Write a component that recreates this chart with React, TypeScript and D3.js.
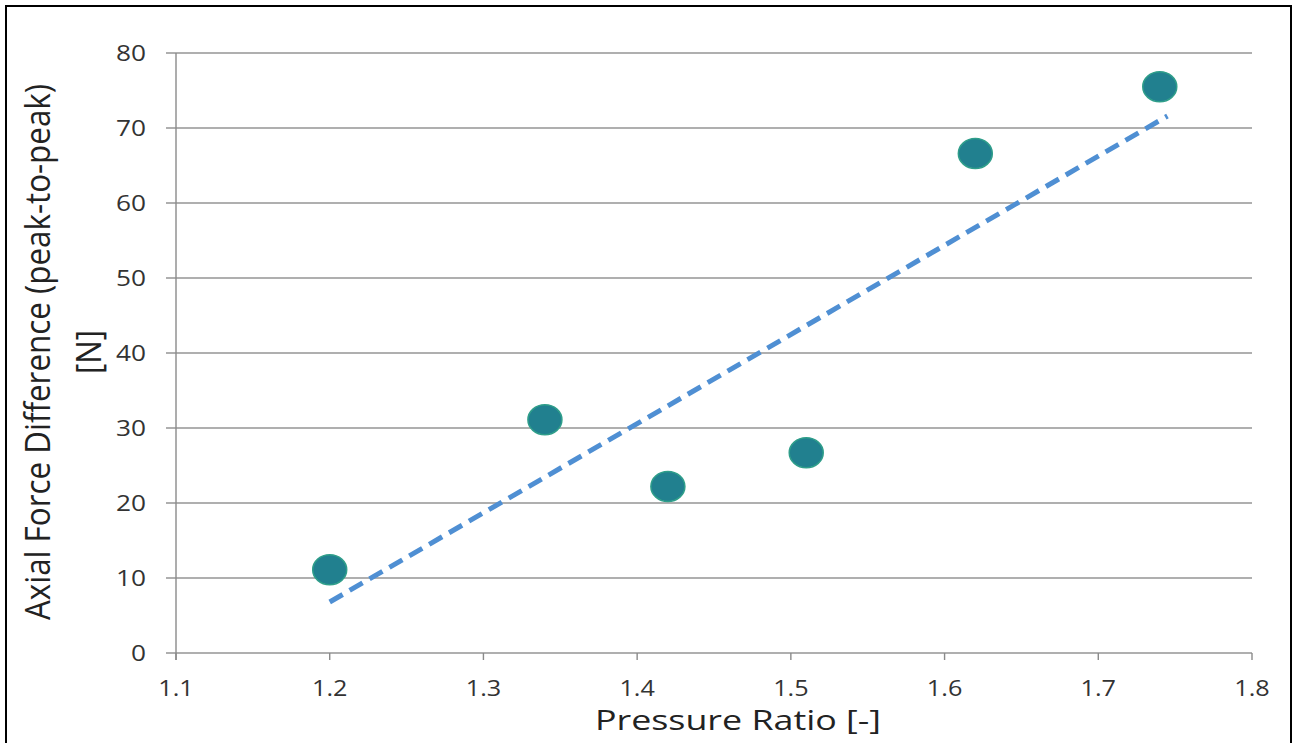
import React, { useEffect, useRef } from "react";
import * as d3 from "d3";

// data
const pressureRatio = [1.2, 1.34, 1.42, 1.51, 1.62, 1.74];
const axialForce = [11.1, 31.1, 22.2, 26.7, 66.6, 75.5];
const trendX = [1.2, 1.745];
const trendY = [6.8, 71.6];
const xTicks = [1.1, 1.2, 1.3, 1.4, 1.5, 1.6, 1.7, 1.8];
const yTicks = [0, 10, 20, 30, 40, 50, 60, 70, 80];

const width = 1296;
const height = 743;
const font = "'Open Sans', 'Noto Sans', sans-serif";

export default function App() {
  const ref = useRef<SVGSVGElement>(null);

  useEffect(() => {
    const svg = d3.select(ref.current);
    svg.selectAll("*").remove();

    const x = d3.scaleLinear().domain([1.1, 1.8]).range([176, 1252]);
    const y = d3.scaleLinear().domain([0, 80]).range([653, 53]);

    svg.append("rect").attr("width", width).attr("height", height).attr("fill", "#fff");
    // outer frame
    svg.append("rect")
      .attr("x", 6).attr("y", 6)
      .attr("width", 1285).attr("height", 760)
      .attr("fill", "none").attr("stroke", "#000").attr("stroke-width", 2);

    // horizontal gridlines (extend left of the axis like tick marks)
    svg.append("g").selectAll("line").data(yTicks).join("line")
      .attr("x1", x(1.1) - 10).attr("x2", x(1.8))
      .attr("y1", d => y(d)).attr("y2", d => y(d))
      .attr("stroke", "#959595").attr("stroke-width", 1.4);

    // y axis line
    svg.append("line")
      .attr("x1", x(1.1)).attr("x2", x(1.1))
      .attr("y1", y(80)).attr("y2", y(0) + 7)
      .attr("stroke", "#8a8a8a").attr("stroke-width", 1.4);

    // x ticks
    svg.append("g").selectAll("line").data(xTicks).join("line")
      .attr("x1", d => x(d)).attr("x2", d => x(d))
      .attr("y1", y(0)).attr("y2", y(0) + 7)
      .attr("stroke", "#8a8a8a").attr("stroke-width", 1.4);

    // tick labels (the original is stretched horizontally)
    svg.append("g").selectAll("text").data(yTicks).join("text")
      .attr("transform", d => `translate(146,${y(d)}) scale(1.25,1)`)
      .attr("dy", "0.36em")
      .attr("text-anchor", "end")
      .style("font-family", font).style("font-size", "21px").attr("fill", "#333")
      .text(d => d);

    svg.append("g").selectAll("text").data(xTicks).join("text")
      .attr("transform", d => `translate(${x(d)},696) scale(1.2,1)`)
      .attr("text-anchor", "middle")
      .style("font-family", font).style("font-size", "21px").attr("fill", "#333")
      .text(d => d.toFixed(1));

    // trend line
    svg.append("path")
      .attr("d", d3.line<number>().x(d => x(d)).y((d, i) => y(trendY[i]))(trendX))
      .attr("fill", "none")
      .attr("stroke", "#4f8fd3")
      .attr("stroke-width", 5)
      .attr("stroke-dasharray", "15,8");

    // points
    svg.append("g").selectAll("ellipse").data(pressureRatio).join("ellipse")
      .attr("cx", d => x(d)).attr("cy", (d, i) => y(axialForce[i]))
      .attr("rx", 17).attr("ry", 15)
      .attr("fill", "#21808f")
      .attr("stroke", "#2f9e8a").attr("stroke-width", 1.5);

    // axis titles
    svg.append("text")
      .attr("transform", "translate(738,730) scale(1.28,1)")
      .attr("text-anchor", "middle")
      .style("font-family", font).style("font-size", "28px").attr("fill", "#222")
      .text("Pressure Ratio [-]");

    const yt = svg.append("text")
      .attr("transform", "translate(50,352) rotate(-90) scale(1.12,1.25)")
      .attr("text-anchor", "middle")
      .style("font-family", font).style("font-size", "28px").attr("fill", "#222");
    yt.append("tspan").attr("x", 0).attr("y", 0).text("Axial Force Difference (peak-to-peak)");
    yt.append("tspan").attr("x", 0).attr("y", 41).text("[N]");
  }, []);

  return (
    <svg ref={ref} width={width} height={height}
      style={{ position: "absolute", left: 0, top: 0, display: "block" }} />
  );
}
